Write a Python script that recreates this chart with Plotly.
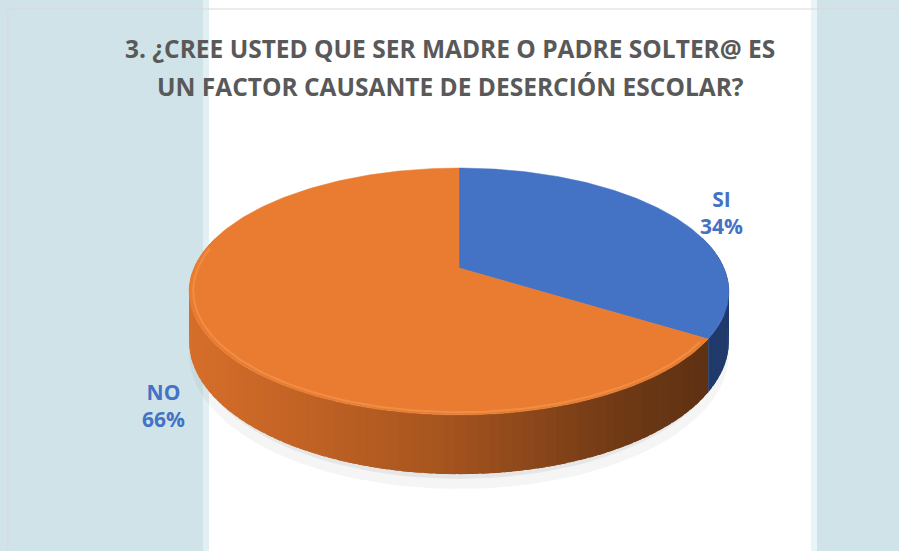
import numpy as np
import plotly.graph_objects as go

# ---- data ----
categories = ["SI", "NO"]
values = [34, 66]
title_lines = ["3. ¿CREE USTED QUE SER MADRE O PADRE SOLTER@ ES",
               "UN FACTOR CAUSANTE DE DESERCIÓN ESCOLAR?"]

# ---- style / geometry ----
W, H = 899, 551
CX, CY = 459, 268          # pie vertex (pixels)
A, B, K, D = 265, 119, 0.19, 48   # radii, perspective, depth
top_colors = ["#4472c4", "#e97c30"]
label_color = "#4472c4"
label_pos = [(721, 212), (163, 405)]
title_y = [48, 86]
FONT = "Open Sans"


def proj(theta_deg, r=1.0, drop=0.0):
    t = np.radians(np.asarray(theta_deg, dtype=float))
    u = r * np.sin(t)
    v = r * np.cos(t)
    den = 1 + K * v
    return CX + A * u / den, CY - B * v / den + drop / den


def lerp_color(stops, t):
    t = min(max(t, 0), 1)
    for (t0, c0), (t1, c1) in zip(stops[:-1], stops[1:]):
        if t <= t1:
            f = (t - t0) / (t1 - t0) if t1 > t0 else 0
            c = [round(c0[i] + (c1[i] - c0[i]) * f) for i in range(3)]
            return "rgb(%d,%d,%d)" % tuple(c)
    return "rgb(%d,%d,%d)" % tuple(stops[-1][1])


wall_stops = [(0.0, (214, 110, 42)), (0.45, (168, 85, 31)),
              (0.8, (110, 57, 21)), (1.0, (90, 47, 18))]

fig = go.Figure()

# soft shadow
for r, drop, alpha in [(1.0, D + 12, 0.04), (0.98, D + 7, 0.06)]:
    th = np.linspace(0, 360, 181)
    sx, sy = proj(th, r, drop)
    fig.add_trace(go.Scatter(x=sx, y=sy, mode="lines", fill="toself",
                             line=dict(width=0), fillcolor="rgba(0,0,0,%.2f)" % alpha,
                             hoverinfo="skip", showlegend=False))

total = sum(values)
angles = np.concatenate([[0], np.cumsum(values) / total * 360])

# side walls (front part only)
VIS0, VIS1 = 75, 285
for i, cat in enumerate(categories):
    a0, a1 = max(angles[i], VIS0), min(angles[i + 1], VIS1)
    if a1 <= a0:
        continue
    n = max(2, int((a1 - a0) / 2))
    edges = np.linspace(a0, a1, n + 1)
    for j in range(n):
        e1 = min(edges[j + 1] + 1.5, a1)
        th = np.linspace(edges[j], e1, 4)
        tx, ty = proj(th)
        bx, by = proj(th[::-1], 1.0, D)
        xs = np.concatenate([tx, bx])
        ys = np.concatenate([ty, by])
        if i == 0:
            col = "#203a6c"
        else:
            xm = float(np.mean(tx))
            col = lerp_color(wall_stops, (xm - (CX - A * 1.02)) / (2 * A * 1.02))
        fig.add_trace(go.Scatter(x=xs, y=ys, mode="lines", fill="toself",
                                 line=dict(width=0), fillcolor=col,
                                 hoverinfo="skip", showlegend=False))

# top faces
for i, cat in enumerate(categories):
    th = np.linspace(angles[i], angles[i + 1], 200)
    tx, ty = proj(th)
    xs = np.concatenate([[CX], tx, [CX]])
    ys = np.concatenate([[CY], ty, [CY]])
    fig.add_trace(go.Scatter(x=xs, y=ys, mode="lines", fill="toself",
                             line=dict(width=0.5, color=top_colors[i]),
                             fillcolor=top_colors[i], name=cat,
                             hoverinfo="skip", showlegend=False))

# bevel highlight along the front rim
th = np.linspace(angles[1] + 2, 280, 120)
hx, hy = proj(th, 0.985)
fig.add_trace(go.Scatter(x=hx, y=hy, mode="lines",
                         line=dict(width=2, color="rgba(250,160,90,0.5)"),
                         hoverinfo="skip", showlegend=False))

# data labels
annotations = []
for i, cat in enumerate(categories):
    pct = round(values[i] / total * 100)
    annotations.append(dict(x=label_pos[i][0], y=label_pos[i][1], xref="x", yref="y",
                            text="<b>%s<br>%d%%</b>" % (cat, pct), showarrow=False,
                            font=dict(family=FONT, size=21, color=label_color),
                            align="center"))

# title (two lines)
for line, ty in zip(title_lines, title_y):
    annotations.append(dict(x=450, y=ty, xref="x", yref="y",
                            text="<b>" + line + "</b>",
                            showarrow=False, align="center",
                            font=dict(family=FONT, size=24.5, color="#595959")))

shapes = [
    dict(type="rect", xref="x", yref="y", x0=0, x1=203, y0=0, y1=H,
         fillcolor="#d0e3e8", line=dict(width=0), layer="below"),
    dict(type="rect", xref="x", yref="y", x0=203, x1=209, y0=0, y1=H,
         fillcolor="#e2eff3", line=dict(width=0), layer="below"),
    dict(type="rect", xref="x", yref="y", x0=811, x1=817, y0=0, y1=H,
         fillcolor="#e8f4f7", line=dict(width=0), layer="below"),
    dict(type="rect", xref="x", yref="y", x0=817, x1=W, y0=0, y1=H,
         fillcolor="#d0e3e8", line=dict(width=0), layer="below"),
    dict(type="rect", xref="x", yref="y", x0=8, x1=W + 10, y0=9, y1=H + 10,
         fillcolor="rgba(0,0,0,0)", line=dict(width=1, color="#d9d9d9"), layer="below"),
]

fig.update_layout(
    width=W, height=H,
    margin=dict(l=0, r=0, t=0, b=0),
    paper_bgcolor="white", plot_bgcolor="rgba(0,0,0,0)",
    xaxis=dict(range=[0, W], visible=False, fixedrange=True),
    yaxis=dict(range=[H, 0], visible=False, fixedrange=True),
    annotations=annotations, shapes=shapes, showlegend=False,
)

fig.write_html("out.html", config={"displayModeBar": False},
               post_script="document.body.style.margin='0';")
